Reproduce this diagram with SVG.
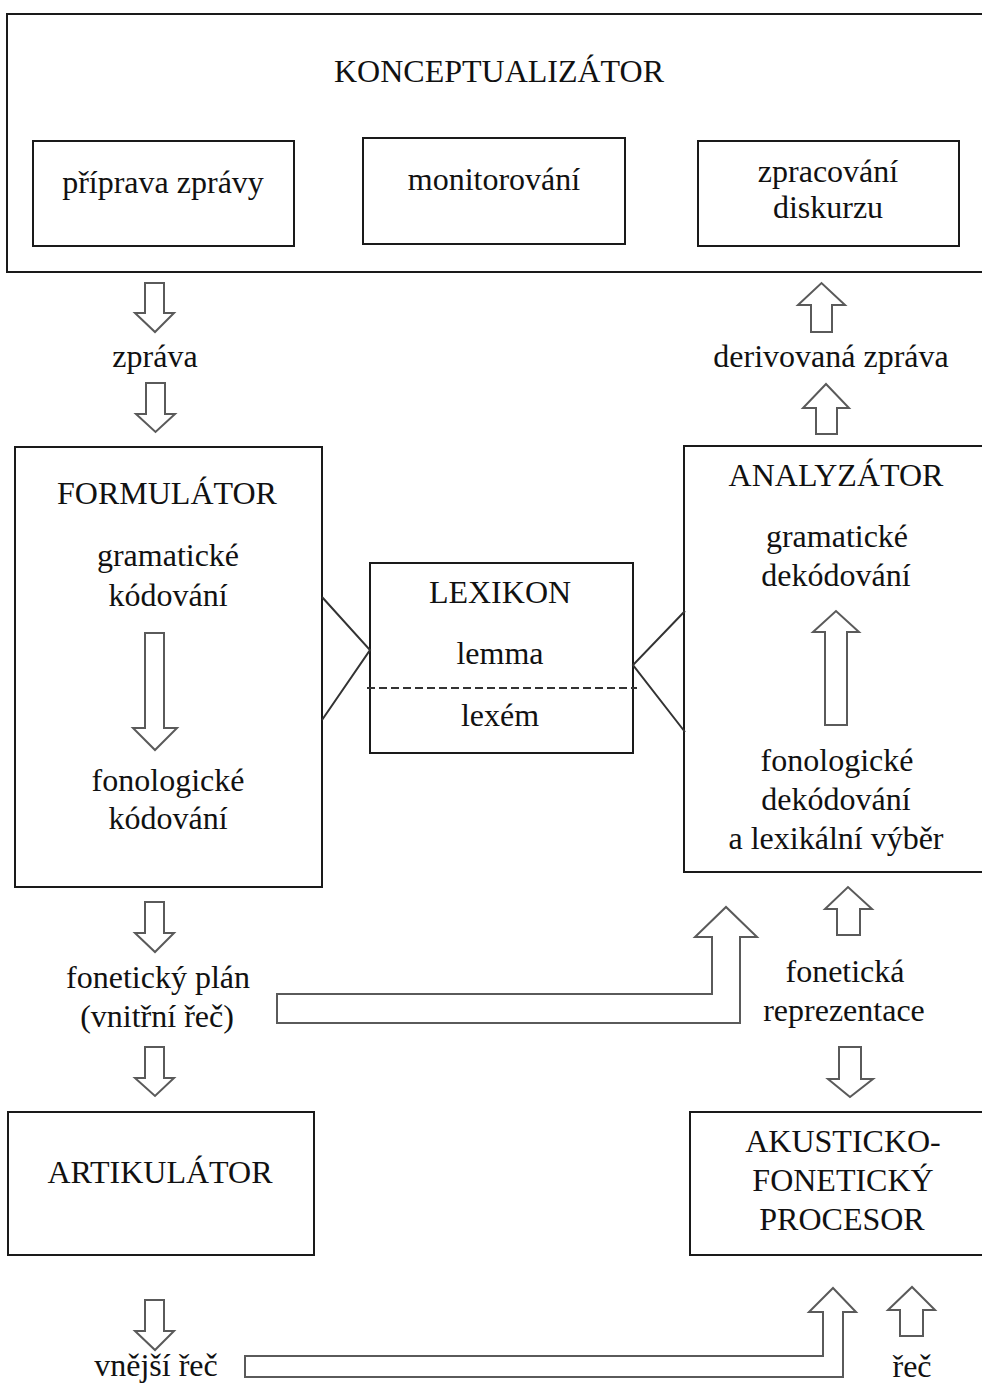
<svg xmlns="http://www.w3.org/2000/svg" width="982" height="1385" viewBox="0 0 982 1385">
<style>
.box{fill:#fff;stroke:#1a1a1a;stroke-width:2}
.arr{fill:#fff;stroke:#5a5a5a;stroke-width:2;stroke-linejoin:miter}
.ln{fill:none;stroke:#333;stroke-width:2}
text{font-family:"Liberation Serif","Times New Roman",serif;font-size:32px;fill:#111;text-anchor:middle}
</style>
<rect width="982" height="1385" fill="#fff"/>
<g id="konceptualizator">
<rect class="box" x="7" y="14" width="990" height="258"/>
<text x="499" y="82">KONCEPTUALIZÁTOR</text>
</g>
<g id="priprava">
<rect class="box" x="33" y="141" width="261" height="105"/>
<text x="163" y="193">příprava zprávy</text>
</g>
<g id="monitorovani">
<rect class="box" x="363" y="138" width="262" height="106"/>
<text x="494" y="190">monitorování</text>
</g>
<g id="zpracovani">
<rect class="box" x="698" y="141" width="261" height="105"/>
<text x="828" y="182">zpracování</text>
<text x="828" y="218">diskurzu</text>
</g>
<g id="formulator">
<rect class="box" x="15" y="447" width="307" height="440"/>
<text x="167" y="504">FORMULÁTOR</text>
<text x="168" y="566">gramatické</text>
<text x="168" y="606">kódování</text>
<text x="168" y="791">fonologické</text>
<text x="168" y="829">kódování</text>
</g>
<g id="lexikon">
<rect class="box" x="370" y="563" width="263" height="190"/>
<text x="500" y="603">LEXIKON</text>
<text x="500" y="664">lemma</text>
<text x="500" y="726">lexém</text>
</g>
<g id="analyzator">
<rect class="box" x="684" y="446" width="310" height="426"/>
<text x="836" y="486">ANALYZÁTOR</text>
<text x="837" y="547">gramatické</text>
<text x="836" y="586">dekódování</text>
<text x="837" y="771">fonologické</text>
<text x="836" y="810">dekódování</text>
<text x="836" y="849">a lexikální výběr</text>
</g>
<g id="artikulator">
<rect class="box" x="8" y="1112" width="306" height="143"/>
<text x="160" y="1183">ARTIKULÁTOR</text>
</g>
<g id="akusticko">
<rect class="box" x="690" y="1112" width="310" height="143"/>
<text x="843" y="1152">AKUSTICKO-</text>
<text x="843" y="1191">FONETICKÝ</text>
<text x="842" y="1230">PROCESOR</text>
</g>
<g id="labels">
<text x="155" y="367">zpráva</text>
<text x="831" y="367">derivovaná zpráva</text>
<text x="158" y="988">fonetický plán</text>
<text x="157" y="1027">(vnitřní řeč)</text>
<text x="845" y="982">fonetická</text>
<text x="844" y="1021">reprezentace</text>
<text x="156" y="1376">vnější řeč</text>
<text x="912" y="1377">řeč</text>
</g>
<g id="connectors">
<path class="arr" d="M145,283 H164 V313 H174 L155,332 L135,313 H145 Z"/>
<path class="arr" d="M146,383 H165 V414 H175 L155.5,432 L136,414 H146 Z"/>
<path class="arr" d="M145,633 H164 V728 H177 L155,750 L133,728 H145 Z"/>
<path class="arr" d="M145,902 H164 V933 H174 L155,952 L135,933 H145 Z"/>
<path class="arr" d="M145,1047 H164 V1078 H174 L155,1096 L135,1078 H145 Z"/>
<path class="arr" d="M145,1300 H164 V1331 H174 L155,1350 L135,1331 H145 Z"/>
<path class="arr" d="M811,332 V305 H798 L821.5,283 L845,305 H832 V332 Z"/>
<path class="arr" d="M816,434 V408 H803 L826,384 L849,408 H837 V434 Z"/>
<path class="arr" d="M825,725 V632 H813 L836,611 L859,632 H847 V725 Z"/>
<path class="arr" d="M837,935 V909 H825 L848,887 L872,909 H860 V935 Z"/>
<path class="arr" d="M839,1047 H861 V1079 H873 L850,1097 L828,1079 H839 Z"/>
<path class="arr" d="M900,1336 V1310 H888 L912,1287 L935,1310 H923 V1336 Z"/>
<path class="arr" d="M277,994 H712 V937 H695 L726,907 L757,937 H740 V1023 H277 Z"/>
<path class="arr" d="M245,1356 H823 V1312 H809 L833,1288 L856,1312 H843 V1377 H245 Z"/>
<path class="ln" d="M322,597 L370,650 L322,720"/>
<path class="ln" d="M685,611 L633,665 L685,732"/>
<path class="ln" d="M367,688 H637" stroke-dasharray="8,4"/>
</g>
</svg>
